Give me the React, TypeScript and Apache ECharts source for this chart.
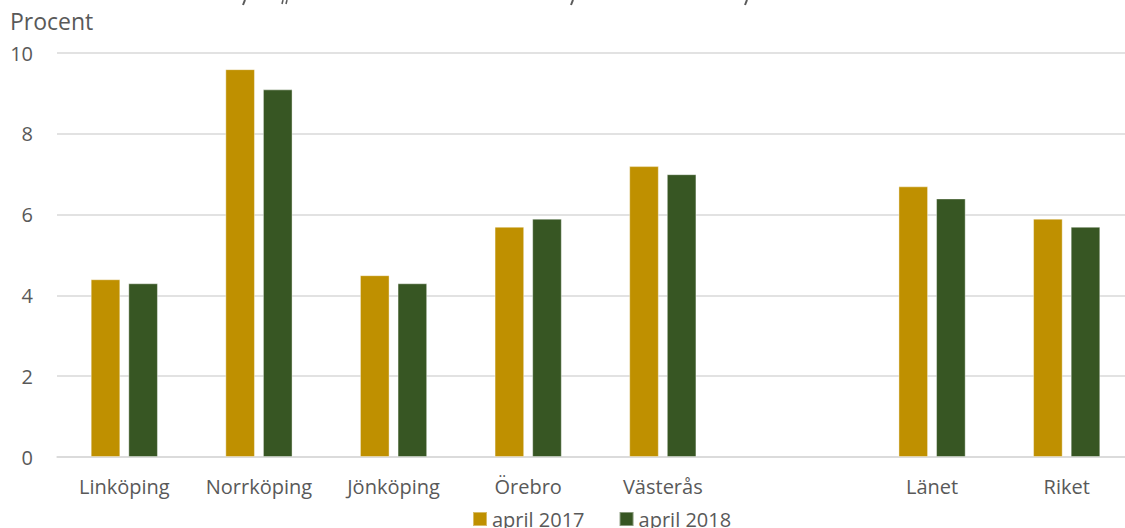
import React, { useEffect, useRef } from "react";
import * as echarts from "echarts";

const categories = ["Linköping", "Norrköping", "Jönköping", "Örebro", "Västerås", "", "Länet", "Riket"];
const april2017 = [4.4, 9.6, 4.5, 5.7, 7.2, null, 6.7, 5.9];
const april2018 = [4.3, 9.1, 4.3, 5.9, 7.0, null, 6.4, 5.7];
const seriesNames = ["april 2017", "april 2018"];
const yTicks = { min: 0, max: 10, interval: 2 };

const FONT = "'Open Sans', sans-serif";
const TEXT = "#595959";

export default function App() {
  const ref = useRef<HTMLDivElement>(null);
  useEffect(() => {
    if (!ref.current) return;
    const chart = echarts.init(ref.current, null, { renderer: "svg" });
    const toData = (arr: (number | null)[]) => arr.map((v) => (v === null ? "-" : v));
    const stroke = { stroke: TEXT, lineWidth: 2 };
    chart.setOption({
      animation: false,
      textStyle: { fontFamily: FONT },
      title: {
        text: "Procent",
        left: 10,
        top: 9,
        padding: 0,
        textStyle: { fontSize: 23, fontWeight: "normal", color: TEXT, fontFamily: FONT },
      },
      graphic: [
        { type: "line", shape: { x1: 245, y1: 0, x2: 243, y2: 5 }, style: stroke },
        { type: "line", shape: { x1: 283, y1: 0, x2: 282, y2: 4 }, style: { stroke: TEXT, lineWidth: 1.5 } },
        { type: "line", shape: { x1: 287, y1: 0, x2: 286, y2: 4 }, style: { stroke: TEXT, lineWidth: 1.5 } },
        { type: "line", shape: { x1: 573, y1: 0, x2: 571, y2: 5 }, style: stroke },
        { type: "line", shape: { x1: 747, y1: 0, x2: 745, y2: 5 }, style: stroke },
      ],
      legend: {
        data: seriesNames,
        left: 472,
        top: 509,
        padding: 0,
        icon: "rect",
        itemWidth: 14,
        itemHeight: 14,
        itemGap: 34,
        textStyle: { fontSize: 20, color: TEXT, fontFamily: FONT, lineHeight: 20 },
      },
      grid: { left: 57, right: 0, top: 53, bottom: 71, containLabel: false },
      xAxis: {
        type: "category",
        data: categories,
        axisTick: { show: false },
        axisLine: { lineStyle: { color: "#D9D9D9", width: 1.5 } },
        axisLabel: { fontSize: 20, color: TEXT, fontFamily: FONT, margin: 19, interval: 0 },
      },
      yAxis: {
        type: "value",
        min: yTicks.min,
        max: yTicks.max,
        interval: yTicks.interval,
        axisLine: { show: false },
        axisTick: { show: false },
        splitLine: { lineStyle: { color: "#D9D9D9", width: 1.5 } },
        axisLabel: { fontSize: 20, color: TEXT, fontFamily: FONT, margin: 24 },
      },
      series: [
        {
          name: seriesNames[0],
          type: "bar",
          data: toData(april2017),
          barWidth: "22%",
          barGap: "27%",
          itemStyle: { color: "#BF9000", borderColor: "rgba(255,255,255,0.4)", borderWidth: 1 },
        },
        {
          name: seriesNames[1],
          type: "bar",
          data: toData(april2018),
          barWidth: "22%",
          barGap: "27%",
          itemStyle: { color: "#375623", borderColor: "rgba(255,255,255,0.4)", borderWidth: 1 },
        },
      ],
    });
    return () => chart.dispose();
  }, []);
  return (
    <div style={{ position: "absolute", left: 0, top: 0, width: 1125, height: 528, overflow: "hidden" }}>
      <div ref={ref} style={{ width: 1134, height: 528 }} />
    </div>
  );
}
